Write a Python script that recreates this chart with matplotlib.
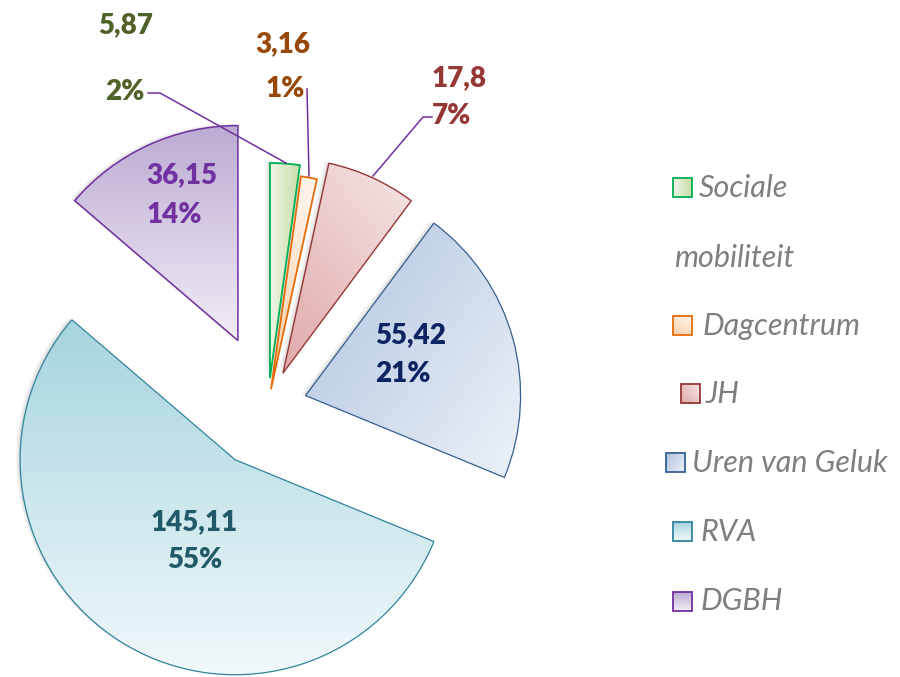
import matplotlib
matplotlib.use("Agg")
import matplotlib.pyplot as plt
import matplotlib.patches as mpatches
import numpy as np
from matplotlib.colors import to_rgb

# data
categories = ["Sociale mobiliteit", "Dagcentrum", "JH", "Uren van Geluk", "RVA", "DGBH"]
values = [5.87, 3.16, 17.8, 55.42, 145.11, 36.15]

# styles
edge_colors = ["#00b050", "#e46c0a", "#953735", "#365f91", "#31849b", "#7030a0"]
edge_widths = [1.3, 1.3, 1.0, 0.9, 0.9, 1.1]
label_colors = ["#4f6228", "#974806", "#953735", "#0e2362", "#215968", "#7030a0"]
grad_dark = ["#c9dca8", "#fbcfa8", "#dfa9a9", "#afc3e0", "#a6d4df", "#bdabd3"]
grad_light = ["#eff6e8", "#fff6ef", "#f7e6e6", "#edf2f8", "#f1f9fb", "#f2eef7"]
grad_dir = [180, 60, 40, -35, -90, -90]   # direction in which the fill gets lighter
explode = [28, 17, 36, 39, 63, 72]        # offsets in pixels

W, H = 900, 677
def px(x, y):
    return x, H - y

fig = plt.figure(figsize=(9, 6.77), dpi=100)
ax = fig.add_axes([0, 0, 1, 1])

wedges, _ = ax.pie(values, explode=explode, radius=215, center=px(268, 406),
                   startangle=90, counterclock=False, frame=False,
                   wedgeprops=dict(facecolor="none"))

def fill_gradient(patch, c0, c1, angle, zorder=2):
    ext = patch.get_path().get_extents(patch.get_patch_transform())
    x0, y0, x1, y1 = ext.x0, ext.y0, ext.x1, ext.y1
    n = 200
    xx, yy = np.meshgrid(np.linspace(-0.5, 0.5, n), np.linspace(-0.5, 0.5, n))
    a = np.radians(angle)
    t = xx * (x1 - x0) * np.cos(a) + yy * (y1 - y0) * np.sin(a)
    t = (t - t.min()) / (t.max() - t.min())
    img = (1 - t)[..., None] * np.array(to_rgb(c0)) + t[..., None] * np.array(to_rgb(c1))
    im = ax.imshow(img, extent=[x0, x1, y0, y1], origin="lower",
                   interpolation="bilinear", aspect="auto", zorder=zorder)
    im.set_clip_path(patch)

for i, w in enumerate(wedges):
    # soft shadow
    for k, al in [(1.5, 0.10), (3, 0.07), (4.5, 0.05)]:
        ax.add_patch(mpatches.Wedge((w.center[0] - k, w.center[1] + k * 0.4), w.r,
                                    w.theta1, w.theta2, facecolor="#555555",
                                    edgecolor="none", alpha=al, zorder=1))
    w.set_edgecolor(edge_colors[i])
    w.set_linewidth(edge_widths[i])
    w.set_zorder(3)
    fill_gradient(w, grad_dark[i], grad_light[i], grad_dir[i])

# data labels
total = sum(values)
label_pos = [((98, 33), (105, 100)), ((255, 52), (266, 97)), ((432, 86), (432, 124)),
             ((375, 343), (375, 382)), ((151, 530), (167, 568)), ((146, 183), (147, 223))]
for i, v in enumerate(values):
    txt_val = f"{v:g}".replace(".", ",")
    txt_pct = f"{round(v / total * 100)}%"
    (vx, vy), (qx, qy) = label_pos[i]
    ax.text(*px(vx, vy), txt_val, ha="left", va="baseline", fontsize=20,
            fontweight="heavy", family="Lato", color=label_colors[i], zorder=5)
    ax.text(*px(qx, qy), txt_pct, ha="left", va="baseline", fontsize=20,
            fontweight="heavy", family="Lato", color=label_colors[i], zorder=5)

# leader lines
leaders = [[(148, 93), (160, 93), (286, 163)],
           [(307, 89), (309, 176)],
           [(432, 117), (423, 117), (373, 176)]]
for pts in leaders:
    xs, ys = zip(*[px(x, y) for x, y in pts])
    ax.plot(xs, ys, color="#7030a0", lw=1.1, zorder=4)

# legend
leg_marker = [(673, 178), (673, 316), (681, 384), (666, 453), (673, 522), (673, 592)]
leg_text = [(699, 197), (702, 335), (706, 403), (692, 472), (700, 541), (700, 610)]
leg_font = dict(ha="left", va="baseline", fontsize=22, style="italic",
                family="Lato", color="#7f7f7f")
for i, name in enumerate(categories):
    mx, my = leg_marker[i]
    rect = mpatches.Rectangle(px(mx, my + 19), 19, 19, facecolor="none",
                              edgecolor=edge_colors[i], lw=1.3, zorder=3)
    ax.add_patch(rect)
    fill_gradient(rect, grad_dark[i], grad_light[i], grad_dir[i])
    tx, ty = leg_text[i]
    if name == "Sociale mobiliteit":
        words = name.split()
        ax.text(*px(tx, ty), words[0], **leg_font)
        ax.text(*px(674, 267), " ".join(words[1:]), **leg_font)
    else:
        ax.text(*px(tx, ty), name, **leg_font)

ax.set_xlim(0, W)
ax.set_ylim(0, H)
ax.set_aspect("equal")
ax.axis("off")
fig.savefig("out.png", dpi=100, facecolor="white")
